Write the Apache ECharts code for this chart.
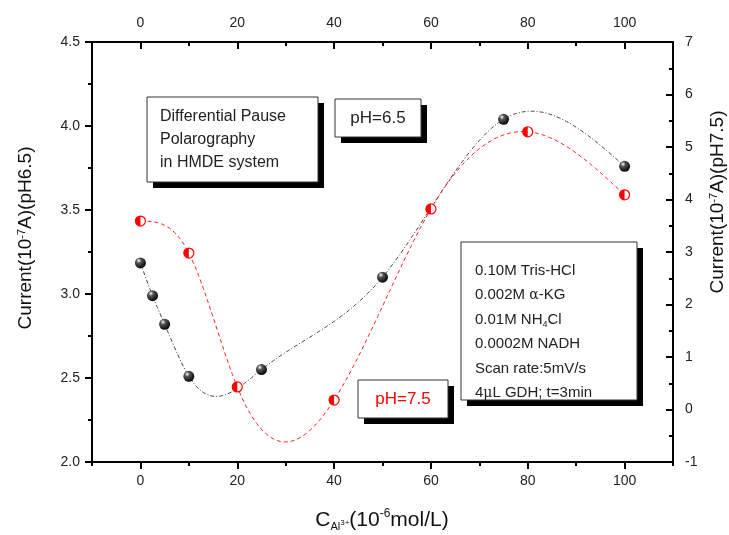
<!DOCTYPE html>
<html><head><meta charset="utf-8">
<script src="https://cdn.jsdelivr.net/npm/echarts@6/dist/echarts.min.js"></script>
<style>html,body{margin:0;padding:0;background:#fff}#main{width:729px;height:535px}</style>
</head><body><div id="main"></div>
<script>
// ---- data ----
const concPH65 = [0, 2.5, 5, 10, 25, 50, 75, 100];
const currentPH65 = [3.185, 2.99, 2.82, 2.51, 2.55, 3.10, 4.04, 3.76];
const concPH75 = [0, 10, 20, 40, 60, 80, 100];
const currentPH75 = [3.59, 2.98, 0.43, 0.18, 3.82, 5.29, 4.09];
const xTickValues = [0, 20, 40, 60, 80, 100];
const boxTitleLines = ['Differential Pause', 'Polarography', 'in HMDE system'];
const boxCondLines = ['0.10M Tris-HCl', '0.002M {g|α}-KG', '0.01M NH{sub|4}Cl', '0.0002M NADH', 'Scan rate:5mV/s', '4{g|μ}L GDH; t=3min'];

const FONT = '"Liberation Sans", Arial, sans-serif';

function naturalSpline(xs, ys) {
  const n = xs.length, h = [], al = [], l = [1], mu = [0], z = [0], c = new Array(n).fill(0), b = [], d = [];
  for (let i = 0; i < n - 1; i++) h[i] = xs[i + 1] - xs[i];
  for (let i = 1; i < n - 1; i++) al[i] = 3 / h[i] * (ys[i + 1] - ys[i]) - 3 / h[i - 1] * (ys[i] - ys[i - 1]);
  for (let i = 1; i < n - 1; i++) { l[i] = 2 * (xs[i + 1] - xs[i - 1]) - h[i - 1] * mu[i - 1]; mu[i] = h[i] / l[i]; z[i] = (al[i] - h[i - 1] * z[i - 1]) / l[i]; }
  for (let j = n - 2; j >= 0; j--) { c[j] = z[j] - mu[j] * c[j + 1]; b[j] = (ys[j + 1] - ys[j]) / h[j] - h[j] * (c[j + 1] + 2 * c[j]) / 3; d[j] = (c[j + 1] - c[j]) / (3 * h[j]); }
  return x => { let j = 0; while (j < n - 2 && x > xs[j + 1]) j++; const dx = x - xs[j]; return ys[j] + b[j] * dx + c[j] * dx * dx + d[j] * dx * dx * dx; };
}

function curveSeries(xs, ys, yAxisIndex, color, dash) {
  const f = naturalSpline(xs, ys);
  return {
    type: 'custom', xAxisIndex: 0, yAxisIndex, silent: true, z: 2,
    data: xs.map((x, i) => [x, ys[i]]),
    renderItem: (params, api) => {
      if (params.dataIndex !== 0) return null;
      const pts = [];
      for (let x = xs[0]; x <= xs[xs.length - 1] + 1e-9; x += 0.5) pts.push(api.coord([x, f(x)]));
      return { type: 'polyline', shape: { points: pts }, style: { stroke: color, lineWidth: 1, lineDash: dash, fill: null } };
    }
  };
}

const chart = echarts.init(document.getElementById('main'), null, { renderer: 'canvas' });
const tickLabel = { fontFamily: FONT, fontSize: 14, color: '#222' };
const axLine = { show: true, onZero: false, lineStyle: { color: '#000', width: 2 } };

function xMajor(pos, inside) {
  return { type: 'value', position: pos, min: -10, max: 110, gridIndex: 0,
    axisLine: axLine, splitLine: { show: false },
    axisTick: { show: true, inside, length: 7, customValues: xTickValues, lineStyle: { color: '#000', width: 2 } },
    axisLabel: Object.assign({ customValues: xTickValues, margin: 12 }, tickLabel) };
}
function xMinor(pos, inside) {
  return { type: 'value', position: pos, min: -10, max: 110, interval: 10, gridIndex: 0,
    axisLine: { show: false, onZero: false }, splitLine: { show: false }, axisLabel: { show: false },
    axisTick: { show: true, inside, length: 4, lineStyle: { color: '#000', width: 2 } } };
}

const option = {
  animation: false,
  backgroundColor: '#fff',
  grid: { left: 92, right: 56, top: 42, bottom: 73 },
  xAxis: [xMajor('bottom', false), xMinor('bottom', false), xMajor('top', true), xMinor('top', true)],
  yAxis: [
    { type: 'value', position: 'left', min: 2.0, max: 4.5, interval: 0.5,
      axisLine: axLine, splitLine: { show: false },
      axisTick: { show: true, inside: false, length: 7, lineStyle: { color: '#000', width: 2 } },
      minorTick: { show: true, splitNumber: 2, length: 4, lineStyle: { color: '#000', width: 2 } },
      axisLabel: Object.assign({ margin: 12, formatter: v => v.toFixed(1) }, tickLabel) },
    { type: 'value', position: 'right', min: -1, max: 7, interval: 1,
      axisLine: axLine, splitLine: { show: false },
      axisTick: { show: true, inside: true, length: 7, lineStyle: { color: '#000', width: 2 } },
      minorTick: { show: true, splitNumber: 2, length: 4, lineStyle: { color: '#000', width: 2 } },
      axisLabel: Object.assign({ margin: 12 }, tickLabel) }
  ],
  series: [
    curveSeries(concPH65, currentPH65, 0, '#444', [4, 2, 1, 2]),
    curveSeries(concPH75, currentPH75, 1, '#ff2020', [4, 3]),
    { type: 'custom', xAxisIndex: 0, yAxisIndex: 0, z: 5,
      data: concPH65.map((x, i) => [x, currentPH65[i]]),
      renderItem: (params, api) => {
        const p = api.coord([api.value(0), api.value(1)]);
        return { type: 'circle', shape: { cx: p[0], cy: p[1], r: 5.5 },
          style: { fill: new echarts.graphic.RadialGradient(0.35, 0.3, 0.75, [
            { offset: 0, color: '#ffffff' }, { offset: 0.3, color: '#555' }, { offset: 1, color: '#000' }]) } };
      } },
    { type: 'custom', xAxisIndex: 0, yAxisIndex: 1, z: 5,
      data: concPH75.map((x, i) => [x, currentPH75[i]]),
      renderItem: (params, api) => {
        const p = api.coord([api.value(0), api.value(1)]);
        return { type: 'group', children: [
          { type: 'circle', shape: { cx: p[0], cy: p[1], r: 5 }, style: { fill: '#fff', stroke: '#ff0000', lineWidth: 1.2 } },
          { type: 'sector', shape: { cx: p[0], cy: p[1], r0: 0, r: 5, startAngle: Math.PI / 2, endAngle: Math.PI * 1.5, clockwise: true }, style: { fill: '#ff0000' } }
        ] };
      } }
  ],
  graphic: [
    // axis names
    { type: 'text', x: 26, y: 238, rotation: Math.PI / 2, style: {
        text: 'Current(10{sup|-7}A)(pH6.5)', font: '19px ' + FONT, fill: '#111', align: 'center', verticalAlign: 'middle',
        rich: { sup: { fontSize: 11, verticalAlign: 'top', padding: [0, 0, 9, 0], fontFamily: FONT } } } },
    { type: 'text', x: 718, y: 202, rotation: Math.PI / 2, style: {
        text: 'Current(10{sup|-7}A)(pH7.5)', font: '19px ' + FONT, fill: '#111', align: 'center', verticalAlign: 'middle',
        rich: { sup: { fontSize: 11, verticalAlign: 'top', padding: [0, 0, 9, 0], fontFamily: FONT } } } },
    { type: 'text', x: 382, y: 520, style: {
        text: 'C{sub|Al}{subsup|3+}(10{sup|-6}mol/L)', font: '21px ' + FONT, fill: '#111', align: 'center', verticalAlign: 'middle',
        rich: { sup: { fontSize: 12, verticalAlign: 'top', padding: [0, 0, 10, 0], fontFamily: FONT },
                sub: { fontSize: 11, padding: [14, 0, 0, 0], fontFamily: FONT },
                subsup: { fontSize: 8, padding: [6, 0, 0, 0], fontFamily: FONT } } } },
    // box 1
    { type: 'rect', shape: { x: 153, y: 103, width: 171, height: 85 }, style: { fill: '#000' }, z: 10 },
    { type: 'rect', shape: { x: 147, y: 97, width: 171, height: 85 }, style: { fill: '#fff', stroke: '#333', lineWidth: 1 }, z: 11 },
    { type: 'text', x: 160, y: 140, z: 12, style: { text: boxTitleLines.join('\n'), font: '16px ' + FONT, fill: '#222', lineHeight: 23, verticalAlign: 'middle' } },
    // box 2
    { type: 'rect', shape: { x: 341, y: 105, width: 86, height: 38 }, style: { fill: '#000' }, z: 10 },
    { type: 'rect', shape: { x: 335, y: 99, width: 86, height: 38 }, style: { fill: '#fff', stroke: '#333', lineWidth: 1 }, z: 11 },
    { type: 'text', x: 378, y: 118, z: 12, style: { text: 'pH=6.5', font: '17px ' + FONT, fill: '#222', align: 'center', verticalAlign: 'middle' } },
    // box 3
    { type: 'rect', shape: { x: 467, y: 248, width: 176, height: 158 }, style: { fill: '#000' }, z: 10 },
    { type: 'rect', shape: { x: 461, y: 242, width: 176, height: 158 }, style: { fill: '#fff', stroke: '#333', lineWidth: 1 }, z: 11 },
    { type: 'text', x: 475, y: 332, z: 12, style: { text: boxCondLines.join('\n'), font: '15px ' + FONT, fill: '#222', lineHeight: 24.5, verticalAlign: 'middle',
        rich: { g: { fontSize: 14, fontFamily: 'DejaVu Serif' }, sub: { fontSize: 9, padding: [10, 0, 0, 0], fontFamily: FONT } } } },
    // box 4
    { type: 'rect', shape: { x: 364, y: 386, width: 90, height: 38 }, style: { fill: '#000' }, z: 10 },
    { type: 'rect', shape: { x: 358, y: 380, width: 90, height: 38 }, style: { fill: '#fff', stroke: '#333', lineWidth: 1 }, z: 11 },
    { type: 'text', x: 403, y: 399, z: 12, style: { text: 'pH=7.5', font: '17px ' + FONT, fill: '#ff0000', align: 'center', verticalAlign: 'middle' } }
  ]
};
chart.setOption(option);
</script></body></html>
